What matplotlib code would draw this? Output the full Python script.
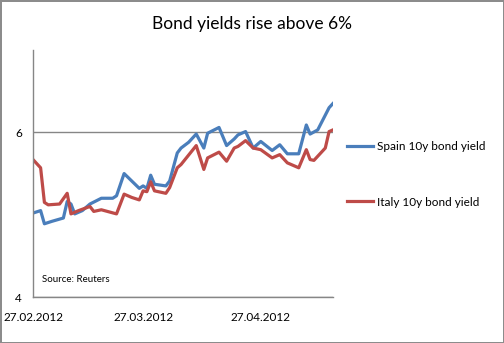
import numpy as np
import pandas as pd
import matplotlib
matplotlib.use("Agg")
import matplotlib.pyplot as plt
import matplotlib.dates as mdates

plt.rcParams['font.family'] = ['Lato', 'DejaVu Sans']

# Dane
start = pd.Timestamp("2012-02-27")

spain_days = [0, 2, 3, 5, 8, 9, 10, 11, 13, 15, 18, 21, 22, 24, 26, 28, 29, 30, 31,
              32, 35, 36, 38, 39, 41, 43, 45, 46, 49, 51, 53, 54, 56, 58, 60, 63,
              65, 67, 70, 72, 73, 75, 77, 78, 79]
spain_yield = [5.02, 5.05, 4.89, 4.92, 4.96, 5.16, 5.13, 5.01, 5.05, 5.13, 5.20, 5.20,
               5.23, 5.50, 5.41, 5.32, 5.35, 5.32, 5.48, 5.37, 5.35, 5.41, 5.75, 5.81,
               5.88, 5.98, 5.81, 5.99, 6.06, 5.84, 5.92, 5.97, 6.01, 5.81, 5.89, 5.78,
               5.85, 5.74, 5.74, 6.09, 5.98, 6.03, 6.21, 6.30, 6.35]

italy_days = [0, 2, 3, 4, 7, 9, 10, 12, 15, 16, 18, 22, 24, 26, 28, 29, 30, 31, 32,
              35, 36, 38, 39, 43, 45, 46, 49, 51, 53, 54, 56, 58, 60, 63, 65, 67,
              70, 72, 73, 74, 77, 78, 79]
italy_yield = [5.67, 5.57, 5.15, 5.12, 5.13, 5.26, 5.01, 5.05, 5.10, 5.04, 5.06, 5.01,
               5.25, 5.21, 5.18, 5.29, 5.28, 5.40, 5.29, 5.26, 5.33, 5.57, 5.61, 5.84,
               5.55, 5.69, 5.76, 5.65, 5.81, 5.83, 5.90, 5.81, 5.79, 5.69, 5.73, 5.63,
               5.57, 5.79, 5.67, 5.66, 5.81, 6.01, 6.03]

x_ticks = ["2012-02-27", "2012-03-27", "2012-04-27"]
y_ticks = [4, 6]

spain_dates = [start + pd.Timedelta(days=d) for d in spain_days]
italy_dates = [start + pd.Timedelta(days=d) for d in italy_days]

fig = plt.figure(figsize=(5.04, 3.43), dpi=100)
fig.patch.set_edgecolor("#8c8c8c")
fig.patch.set_linewidth(1.0)

ax = fig.add_axes([0.0655, 0.134, 0.595, 0.72])
ax.plot(spain_dates, spain_yield, color="#4A7EBB", lw=2.3, label="Spain 10y bond yield")
ax.plot(italy_dates, italy_yield, color="#BE4B48", lw=2.3, label="Italy 10y bond yield")

ax.set_ylim(4, 7)
ax.set_yticks(y_ticks)
ax.set_xlim(spain_dates[0], spain_dates[-1])
ax.set_xticks(pd.to_datetime(x_ticks))
ax.xaxis.set_major_formatter(mdates.DateFormatter("%d.%m.%Y"))
ax.tick_params(axis="both", length=0, labelsize=8.5)
ax.tick_params(axis="x", pad=11)
ax.tick_params(axis="y", pad=8)
ax.grid(axis="y", color="#868686", lw=1)
ax.set_axisbelow(True)
for s in ["top", "right"]:
    ax.spines[s].set_visible(False)
for s in ["left", "bottom"]:
    ax.spines[s].set_color("#868686")
    ax.spines[s].set_linewidth(1)

ax.text(0.03, 0.06, "Source: Reuters", transform=ax.transAxes, fontsize=7)

fig.text(0.5, 0.93, "Bond yields rise above 6%", ha="center", va="center", fontsize=12.5)

fig.legend(loc="upper left", bbox_to_anchor=(0.689, 0.588), frameon=False,
           fontsize=8.5, handlelength=2.2, handletextpad=0.3, labelspacing=3.75,
           borderaxespad=0, borderpad=0)

fig.savefig("out.png", dpi=100)
